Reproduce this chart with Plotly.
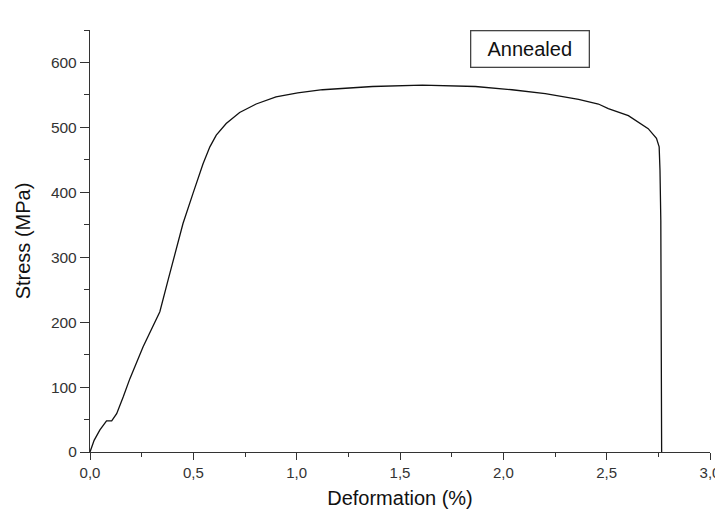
import plotly.graph_objects as go

strain = [0, 0.02, 0.048, 0.08, 0.105, 0.129, 0.161, 0.193, 0.257, 0.305, 0.338,
          0.378, 0.418, 0.45, 0.498, 0.547, 0.58, 0.611, 0.659, 0.724, 0.804, 0.9,
          1.005, 1.125, 1.367, 1.608, 1.865, 2.042, 2.203, 2.364, 2.46, 2.508,
          2.605, 2.701, 2.741, 2.754, 2.758, 2.762, 2.766]
stress = [0, 18, 34, 48, 48, 59, 85, 113, 162, 195, 216,
          265, 311, 352, 398, 444, 470, 488, 506, 523, 536, 547,
          553, 558, 563, 565, 563, 558, 552, 543, 536, 529,
          518, 498, 483, 470, 434, 357, 0]

x_ticks = [0, 0.5, 1.0, 1.5, 2.0, 2.5, 3.0]
y_ticks = [0, 100, 200, 300, 400, 500, 600]

x_title = "Deformation (%)"
y_title = "Stress (MPa)"
label = "Annealed"

FONT = "Liberation Sans, Arial, sans-serif"

# page body has an 8px margin; size the figure so the plot sits where the reference has it
W, H = 715, 513
L, R, T, B = 82, 13, 21.5, 69

fig = go.Figure()
fig.add_trace(go.Scatter(x=strain, y=stress, mode="lines",
                         line=dict(color="#111111", width=1.3), showlegend=False))

fig.update_layout(
    width=W, height=H,
    margin=dict(l=L, r=R, t=T, b=B, autoexpand=False),
    paper_bgcolor="white", plot_bgcolor="white",
    separators=",.",
    font=dict(family=FONT, color="#333333", size=15),
    xaxis=dict(range=[0, 3.0], tickvals=x_ticks, tickformat=".1f",
               automargin=False,
               showgrid=False, zeroline=False, showline=True,
               linecolor="#333333", linewidth=1.3,
               ticks="outside", ticklen=7, tickwidth=1.2, tickcolor="#333333",
               ticklabeloverflow="allow",
               minor=dict(ticks="outside", ticklen=4, dtick=0.25, tickcolor="#333333", tickwidth=1),
               tickfont=dict(size=15, color="#333333"),
               title=dict(text=x_title, font=dict(size=20, color="#111111"), standoff=10)),
    yaxis=dict(range=[0, 650],
               tickvals=y_ticks,
               automargin=False,
               showgrid=False, zeroline=False, showline=True,
               linecolor="#333333", linewidth=1.3,
               ticks="outside", ticklen=9, tickwidth=1.2, tickcolor="#333333",
               ticklabeloverflow="allow",
               minor=dict(ticks="outside", ticklen=5, tickvals=[50, 150, 250, 350, 450, 550, 650],
                          tickcolor="#333333", tickwidth=1),
               tickfont=dict(size=15.5, color="#333333"),
               title=dict(text=y_title, font=dict(size=20, color="#111111"), standoff=14)),
)

plot_w = W - L - R
plot_h = H - T - B
fig.add_annotation(x=(590 - 8 - L) / plot_w, y=(plot_h - (30 - 8 - T)) / plot_h,
                   xref="paper", yref="paper", text=label,
                   showarrow=False, font=dict(size=20, color="#111111", family=FONT),
                   width=107, height=25,
                   bordercolor="#444444", borderwidth=1.3, borderpad=5, bgcolor="white")

fig.write_html("out.html")
